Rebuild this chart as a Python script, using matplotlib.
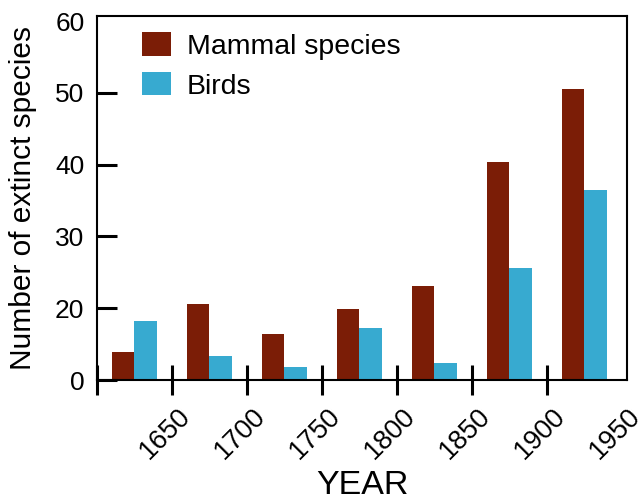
import matplotlib
matplotlib.use("Agg")
from matplotlib import pyplot as plt
from matplotlib import transforms
import numpy as np

plt.rcParams['font.family'] = ['Liberation Sans', 'DejaVu Sans']

# periods (start year of each 50-year interval)
periods = [1600, 1650, 1700, 1750, 1800, 1850, 1900]
mammals = [7.8, 20.6, 12.8, 19.9, 23.1, 40.4, 50.6]
birds = [16.3, 6.7, 3.5, 14.4, 4.8, 25.6, 36.5]

x_ticks = [1600, 1650, 1700, 1750, 1800, 1850, 1900, 1950]
x_labels = ['', '1650', '1700', '1750', '1800', '1850', '1900', '1950']
y_ticks = [0, 20, 30, 40, 50, 60]

mammal_color = "#7b1d06"
bird_color = "#37aad0"

# y axis in the original is compressed below 20
def fwd(y):
    y = np.asarray(y, dtype=float)
    return np.where(y <= 20, y / 2.0, y - 10.0)

def inv(v):
    v = np.asarray(v, dtype=float)
    return np.where(v <= 10, v * 2.0, v + 10.0)

fig = plt.figure(figsize=(6.38, 4.98), dpi=100)
ax = fig.add_axes([97/638, 1-380/498, 530/638, 364/498])

w = 15
centers = np.array(periods) + 25
ax.bar(centers - w/2, mammals, width=w, color=mammal_color, label="Mammal species")
ax.bar(centers + w/2, birds, width=w, color=bird_color, label="Birds")

ax.set_yscale('function', functions=(fwd, inv))
ax.set_ylim(0, 60.7)
ax.set_yticks(y_ticks)
ax.set_yticklabels([str(v) for v in y_ticks])
ax.set_xlim(1600, 1953.4)

ax.set_xticks(x_ticks)
ax.set_xticklabels(x_labels, rotation=45, ha='right', va='top',
                   rotation_mode='anchor', fontsize=19.5)
ax.tick_params(axis='x', direction='inout', length=21.6, width=2.2, pad=6)
ax.tick_params(axis='y', direction='in', length=14.4, width=2.2, labelsize=19, pad=9)
# no tick marks at 1950 and 60
ax.xaxis.get_major_ticks()[-1].tick1line.set_visible(False)
ax.yaxis.get_major_ticks()[-1].tick1line.set_visible(False)
offset = transforms.ScaledTranslation(5/100, 0, fig.dpi_scale_trans)
for lbl in ax.get_xticklabels():
    lbl.set_transform(lbl.get_transform() + offset)

for s in ax.spines.values():
    s.set_linewidth(1.5)

ax.set_ylabel("Number of extinct species", fontsize=21.5, labelpad=13)
ax.set_xlabel("YEAR", fontsize=24.5, labelpad=4)

ax.legend(loc='upper left', bbox_to_anchor=(0.085, 0.955), frameon=False,
          fontsize=20.5, handlelength=1.02, handleheight=0.88, handletextpad=0.55,
          labelspacing=0.43, borderpad=0, borderaxespad=0)

fig.savefig("out.png", dpi=100)
